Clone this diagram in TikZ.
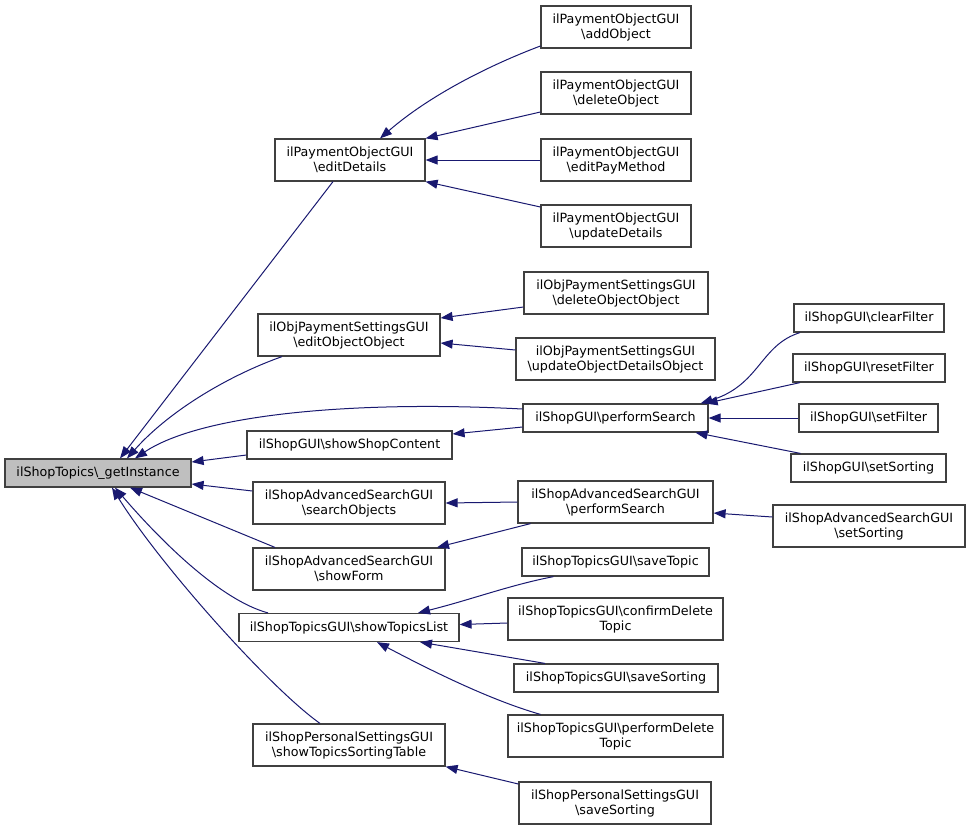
\documentclass[tikz,border=0pt]{standalone}
\usepackage{fontspec}
\setmainfont{DejaVu Sans}
\usetikzlibrary{arrows.meta,calc}
\newcommand{\bsl}{\textbackslash}
\definecolor{edgecol}{HTML}{191970}
\definecolor{boxcol}{HTML}{404040}
\definecolor{rootfill}{HTML}{BFBFBF}
\begin{document}
\begin{tikzpicture}[x=1pt,y=-1pt,
  fn/.style={draw=boxcol,line width=1.2pt,fill=white,inner sep=0pt,align=center,
    font=\fontsize{12.7}{15}\selectfont,minimum height=42pt},
  fn1/.style={fn,minimum height=28pt},
  rootbox/.style={fn1,fill=rootfill},
  edge/.style={draw=edgecol,line width=1pt,-{Triangle[length=12pt,width=9pt]}}]
\useasboundingbox (0,0) rectangle (971,831);
% root
\node[rootbox,minimum width=186pt] (root) at (98,473) {ilShopTopics\bsl\_getInstance};
% level 1
\node[fn,minimum width=150pt] (a1) at (350,160) {ilPaymentObjectGUI\\\bsl editDetails};
\node[fn,minimum width=182pt] (a2) at (349,335) {ilObjPaymentSettingsGUI\\\bsl editObjectObject};
\node[fn1,minimum width=205pt] (a3) at (349.5,445) {ilShopGUI\bsl showShopContent};
\node[fn,minimum width=192pt] (a4) at (349,503) {ilShopAdvancedSearchGUI\\\bsl searchObjects};
\node[fn,minimum width=192pt] (a5) at (349,569) {ilShopAdvancedSearchGUI\\\bsl showForm};
\node[fn1,minimum width=220pt] (a6) at (349,627.5) {ilShopTopicsGUI\bsl showTopicsList};
\node[fn,minimum width=192pt] (a7) at (349,745) {ilShopPersonalSettingsGUI\\\bsl showTopicsSortingTable};
% level 2
\node[fn,minimum width=150pt] (b1) at (616,27) {ilPaymentObjectGUI\\\bsl addObject};
\node[fn,minimum width=150pt] (b2) at (616,93) {ilPaymentObjectGUI\\\bsl deleteObject};
\node[fn,minimum width=150pt] (b3) at (616,160) {ilPaymentObjectGUI\\\bsl editPayMethod};
\node[fn,minimum width=150pt] (b4) at (616,226) {ilPaymentObjectGUI\\\bsl updateDetails};
\node[fn,minimum width=184pt] (b5) at (616,293) {ilObjPaymentSettingsGUI\\\bsl deleteObjectObject};
\node[fn,minimum width=199pt] (b6) at (615.5,359) {ilObjPaymentSettingsGUI\\\bsl updateObjectDetailsObject};
\node[fn1,minimum width=185pt] (b7) at (615.5,418) {ilShopGUI\bsl performSearch};
\node[fn,minimum width=195pt] (b8) at (615.5,502) {ilShopAdvancedSearchGUI\\\bsl performSearch};
\node[fn1,minimum width=187pt] (b9) at (615.5,562) {ilShopTopicsGUI\bsl saveTopic};
\node[fn,minimum width=215pt] (b10) at (615.5,619) {ilShopTopicsGUI\bsl confirmDelete\\Topic};
\node[fn1,minimum width=204pt] (b11) at (616,678) {ilShopTopicsGUI\bsl saveSorting};
\node[fn,minimum width=215pt] (b12) at (615.5,736) {ilShopTopicsGUI\bsl performDelete\\Topic};
\node[fn,minimum width=192pt] (b13) at (615,803) {ilShopPersonalSettingsGUI\\\bsl saveSorting};
% level 3
\node[fn1,minimum width=150pt] (c1) at (869,318) {ilShopGUI\bsl clearFilter};
\node[fn1,minimum width=152pt] (c2) at (869,368) {ilShopGUI\bsl resetFilter};
\node[fn1,minimum width=139pt] (c3) at (868.5,418) {ilShopGUI\bsl setFilter};
\node[fn1,minimum width=155pt] (c4) at (868.5,468) {ilShopGUI\bsl setSorting};
\node[fn,minimum width=192pt] (c5) at (869,526) {ilShopAdvancedSearchGUI\\\bsl setSorting};
% edges into root
\draw[edge] ($(a1.south)+(-17,0)$) -- ($(root.north)+(22,0)$);
\draw[edge] ($(a2.south)+(-67,0)$) .. controls (230,375) and (170,410) .. ($(root.north)+(29,0)$);
\draw[edge] ($(b7.west)+(0,-9)$) .. controls (350,400) and (200,415) .. ($(root.north)+(37,0)$);
\draw[edge] ($(a3.west)+(0,10)$) -- ($(root.east)+(0,-11)$);
\draw[edge] ($(a4.west)+(0,-12)$) -- ($(root.east)+(0,11)$);
\draw[edge] ($(a5.north)+(-74,0)$) -- ($(root.south)+(32,0)$);
\draw[edge] ($(a6.north)+(-81,0)$) .. controls (220,600) and (160,540) .. ($(root.south)+(17,0)$);
\draw[edge] ($(a7.north)+(-29,0)$) .. controls (270,688) and (160,565) .. ($(root.south)+(14,0)$);
% edges into a1
\draw[edge] ($(b1.west)+(0,19)$) .. controls (490,65) and (430,95) .. ($(a1.north)+(30,0)$);
\draw[edge] ($(b2.west)+(0,19)$) -- (a1.north east);
\draw[edge] (b3.west) -- (a1.east);
\draw[edge] ($(b4.west)+(0,-19)$) -- (a1.south east);
% a2
\draw[edge] ($(b5.west)+(0,14)$) -- ($(a2.east)+(0,-17)$);
\draw[edge] ($(b6.west)+(0,-9)$) -- ($(a2.east)+(0,8)$);
% a3
\draw[edge] ($(b7.west)+(0,9)$) -- ($(a3.east)+(0,-11)$);
% a4, a5
\draw[edge] (b8.west) -- ($(a4.east)+(0,0)$);
\draw[edge] ($(b8.south)+(-85,0)$) -- ($(a5.north)+(88,0)$);
% b7
\draw[edge] ($(c1.south)+(-69,0)$) .. controls (760,345) and (760,385) .. ($(b7.north east)+(-8,0)$);
\draw[edge] ($(c2.south)+(-69,0)$) -- ($(b7.north east)+(-3,0)$);
\draw[edge] (c3.west) -- (b7.east);
\draw[edge] ($(c4.north)+(-68,0)$) -- ($(b7.south)+(80,0)$);
% b8
\draw[edge] ($(c5.west)+(0,-9)$) -- ($(b8.east)+(0,11)$);
% a6
\draw[edge] ($(b9.south)+(-62,0)$) .. controls (510,585) and (470,600) .. ($(a6.north)+(69,0)$);
\draw[edge] ($(b10.west)+(0,4)$) -- ($(a6.east)+(0,-3)$);
\draw[edge] ($(b11.north)+(-71,0)$) -- ($(a6.south)+(71,0)$);
\draw[edge] ($(b12.north)+(-75,0)$) .. controls (490,700) and (430,670) .. ($(a6.south)+(28,0)$);
% a7
\draw[edge] ($(b13.west)+(0,-19)$) -- (a7.south east);
\end{tikzpicture}
\end{document}
